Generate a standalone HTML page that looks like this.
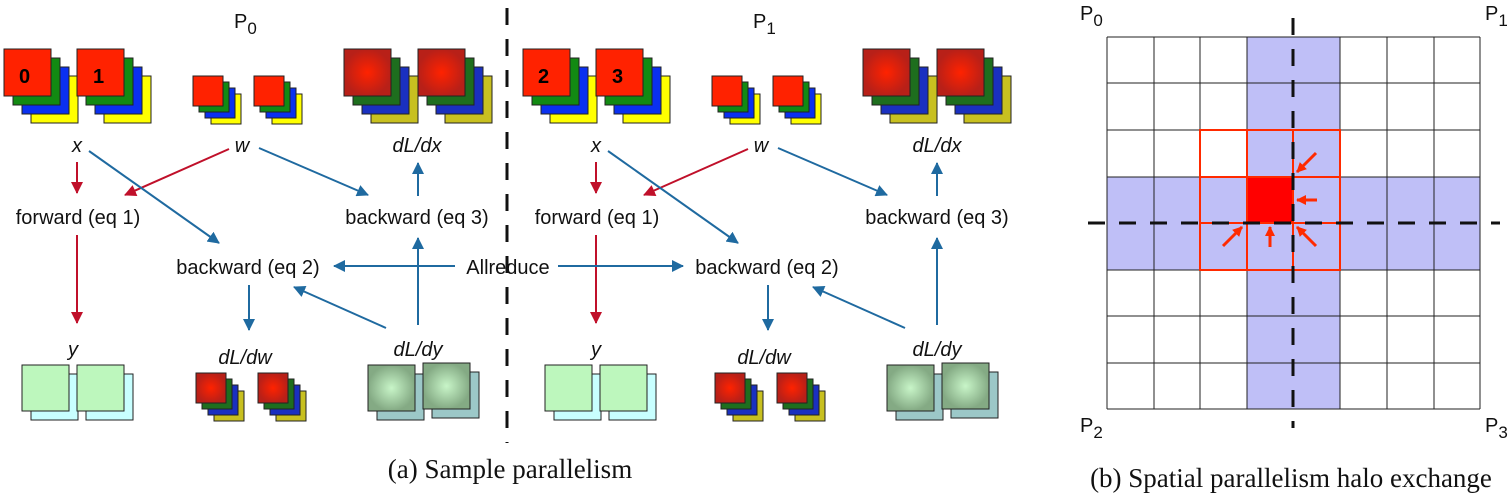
<!DOCTYPE html>
<html><head><meta charset="utf-8"><style>
html,body{margin:0;padding:0;background:#fff;}
svg{display:block;}
.t{font-family:"Liberation Sans",sans-serif;font-size:20px;fill:#111;}
.i{font-style:italic;}
.c{font-family:"Liberation Serif",serif;font-size:27px;fill:#111;}
</style></head><body>
<svg width="1511" height="496" viewBox="0 0 1511 496" xmlns="http://www.w3.org/2000/svg">
<defs>
<marker id="ab" markerWidth="12" markerHeight="12" refX="11" refY="6" orient="auto" markerUnits="userSpaceOnUse"><path d="M0,0 L12,6 L0,12 Z" fill="#1f6aa0"/></marker>
<marker id="ar" markerWidth="12" markerHeight="12" refX="11" refY="6" orient="auto" markerUnits="userSpaceOnUse"><path d="M0,0 L12,6 L0,12 Z" fill="#c0102a"/></marker>
<marker id="ao" markerWidth="10" markerHeight="10" refX="9" refY="5" orient="auto" markerUnits="userSpaceOnUse"><path d="M0,0 L10,5 L0,10 Z" fill="#ff2a00"/></marker>
<radialGradient id="rg"><stop offset="0" stop-color="#ff2200"/><stop offset="1" stop-color="#b82018"/></radialGradient>
<radialGradient id="gg"><stop offset="0" stop-color="#c8f5c8"/><stop offset="1" stop-color="#84aa84"/></radialGradient>
<g id="big"><rect x="27" y="27" width="47" height="47" fill="#ffff00" stroke="#222"/><rect x="18" y="18" width="47" height="47" fill="#0a30f0" stroke="#222"/><rect x="9" y="9" width="47" height="47" fill="#128a12" stroke="#222"/><rect x="0" y="0" width="47" height="47" fill="#ff2200" stroke="#222"/></g>
<g id="sm"><rect x="18" y="18" width="30" height="30" fill="#ffff00" stroke="#222"/><rect x="12" y="12" width="30" height="30" fill="#0a30f0" stroke="#222"/><rect x="6" y="6" width="30" height="30" fill="#128a12" stroke="#222"/><rect x="0" y="0" width="30" height="30" fill="#ff2200" stroke="#222"/></g>
<g id="smg"><rect x="18" y="18" width="30" height="30" fill="#c8c020" stroke="#222"/><rect x="12" y="12" width="30" height="30" fill="#1a30c0" stroke="#222"/><rect x="6" y="6" width="30" height="30" fill="#1e6e1e" stroke="#222"/><rect x="0" y="0" width="30" height="30" fill="url(#rg)" stroke="#222"/></g>
<g id="bigg"><rect x="27" y="27" width="47" height="47" fill="#c8c020" stroke="#222"/><rect x="18" y="18" width="47" height="47" fill="#1a30c0" stroke="#222"/><rect x="9" y="9" width="47" height="47" fill="#1e6e1e" stroke="#222"/><rect x="0" y="0" width="47" height="47" fill="url(#rg)" stroke="#222"/></g>
<g id="ys"><rect x="9" y="9" width="47" height="46" fill="#c8ffff" stroke="#222"/><rect x="0" y="0" width="47" height="46" fill="#bdf7bd" stroke="#222"/></g>
<g id="dys"><rect x="9" y="9" width="47" height="46" fill="#9cc8c8" stroke="#222"/><rect x="0" y="0" width="47" height="46" fill="url(#gg)" stroke="#222"/></g>
</defs>

<use href="#big" x="4" y="49"/><text x="19" y="83" style="font:bold 20px 'Liberation Sans',sans-serif">0</text>
<use href="#big" x="77" y="49"/><text x="93" y="83" style="font:bold 20px 'Liberation Sans',sans-serif">1</text>
<use href="#sm" x="193" y="76"/><use href="#sm" x="254" y="76"/>
<use href="#bigg" x="344" y="49"/><use href="#bigg" x="418" y="49"/>
<use href="#big" x="523" y="49"/><text x="538" y="83" style="font:bold 20px 'Liberation Sans',sans-serif">2</text>
<use href="#big" x="596" y="49"/><text x="612" y="83" style="font:bold 20px 'Liberation Sans',sans-serif">3</text>
<use href="#sm" x="712" y="76"/><use href="#sm" x="773" y="76"/>
<use href="#bigg" x="863" y="49"/><use href="#bigg" x="937" y="49"/>

<use href="#ys" x="22" y="365"/><use href="#ys" x="77" y="365"/>
<use href="#smg" x="196" y="373"/><use href="#smg" x="258" y="373"/>
<use href="#dys" x="368" y="365"/><use href="#dys" x="423" y="363"/>
<use href="#ys" x="545" y="365"/><use href="#ys" x="600" y="365"/>
<use href="#smg" x="715" y="373"/><use href="#smg" x="777" y="373"/>
<use href="#dys" x="887" y="365"/><use href="#dys" x="942" y="363"/>

<text class="t" x="234" y="28">P<tspan font-size="17" dy="6">0</tspan></text>
<text class="t" x="753" y="28">P<tspan font-size="17" dy="6">1</tspan></text>

<g text-anchor="middle">
<text class="t i" x="77" y="152">x</text><text class="t i" x="242" y="152">w</text><text class="t i" x="417" y="152">dL/dx</text>
<text class="t" x="78" y="224">forward (eq 1)</text><text class="t" x="417" y="224">backward (eq 3)</text><text class="t" x="248" y="274">backward (eq 2)</text>
<text class="t" x="508" y="274">Allreduce</text>
<text class="t i" x="73" y="356">y</text><text class="t i" x="245" y="364">dL/dw</text><text class="t i" x="418" y="356">dL/dy</text>
<text class="t i" x="596" y="152">x</text><text class="t i" x="761" y="152">w</text><text class="t i" x="937" y="152">dL/dx</text>
<text class="t" x="597" y="224">forward (eq 1)</text><text class="t" x="937" y="224">backward (eq 3)</text><text class="t" x="767" y="274">backward (eq 2)</text>
<text class="t i" x="596" y="356">y</text><text class="t i" x="764" y="364">dL/dw</text><text class="t i" x="937" y="356">dL/dy</text>
</g>

<g stroke-width="2" fill="none">
<g stroke="#c0102a" marker-end="url(#ar)">
<line x1="77" y1="162" x2="77" y2="193"/><line x1="77" y1="235" x2="77" y2="323"/><line x1="229" y1="149" x2="125" y2="195"/>
<line x1="596" y1="162" x2="596" y2="193"/><line x1="596" y1="235" x2="596" y2="323"/><line x1="748" y1="149" x2="644" y2="195"/>
</g>
<g stroke="#1f6aa0" marker-end="url(#ab)">
<line x1="89" y1="151" x2="219" y2="243"/><line x1="259" y1="148" x2="368" y2="195"/>
<line x1="418" y1="196" x2="418" y2="163"/><line x1="418" y1="325" x2="418" y2="238"/>
<line x1="386" y1="328" x2="294" y2="287"/><line x1="249" y1="285" x2="249" y2="330"/>
<line x1="455" y1="266" x2="334" y2="266"/><line x1="558" y1="266" x2="683" y2="266"/>
<line x1="608" y1="151" x2="738" y2="243"/><line x1="778" y1="148" x2="887" y2="195"/>
<line x1="937" y1="196" x2="937" y2="163"/><line x1="937" y1="325" x2="937" y2="238"/>
<line x1="905" y1="328" x2="813" y2="287"/><line x1="768" y1="285" x2="768" y2="330"/>
</g>
</g>
<line x1="507" y1="8" x2="507" y2="443" stroke="#111" stroke-width="3" stroke-dasharray="17,14"/>
<text class="c" x="510" y="478" text-anchor="middle">(a) Sample parallelism</text>

<rect x="1247" y="37" width="93" height="372" fill="#bfbff7"/>
<rect x="1107" y="177" width="373" height="93" fill="#bfbff7"/>
<g stroke="#222" stroke-width="1">
<line x1="1107" y1="37" x2="1107" y2="409"/><line x1="1154" y1="37" x2="1154" y2="409"/><line x1="1200" y1="37" x2="1200" y2="409"/><line x1="1247" y1="37" x2="1247" y2="409"/><line x1="1340" y1="37" x2="1340" y2="409"/><line x1="1387" y1="37" x2="1387" y2="409"/><line x1="1434" y1="37" x2="1434" y2="409"/><line x1="1480" y1="37" x2="1480" y2="409"/>
<line x1="1107" y1="37" x2="1480" y2="37"/><line x1="1107" y1="83" x2="1480" y2="83"/><line x1="1107" y1="130" x2="1480" y2="130"/><line x1="1107" y1="177" x2="1480" y2="177"/><line x1="1107" y1="270" x2="1480" y2="270"/><line x1="1107" y1="316" x2="1480" y2="316"/><line x1="1107" y1="363" x2="1480" y2="363"/><line x1="1107" y1="409" x2="1480" y2="409"/>
</g>
<rect x="1247" y="177" width="46" height="46" fill="#ff0000"/>
<g stroke="#ff2a00" stroke-width="2" fill="none">
<rect x="1200" y="130" width="140" height="140"/>
<line x1="1247" y1="130" x2="1247" y2="270"/><line x1="1293" y1="130" x2="1293" y2="270"/>
<line x1="1200" y1="177" x2="1340" y2="177"/><line x1="1200" y1="223" x2="1340" y2="223"/>
</g>
<line x1="1293" y1="18" x2="1293" y2="428" stroke="#111" stroke-width="3" stroke-dasharray="17,14"/>
<line x1="1088" y1="223" x2="1500" y2="223" stroke="#111" stroke-width="3" stroke-dasharray="17,14"/>
<g stroke="#ff2a00" stroke-width="3" marker-end="url(#ao)">
<line x1="1316" y1="153" x2="1297" y2="172"/><line x1="1317" y1="200" x2="1297" y2="200"/>
<line x1="1316" y1="246" x2="1297" y2="227"/><line x1="1270" y1="247" x2="1270" y2="227"/>
<line x1="1223" y1="246" x2="1242" y2="227"/>
</g>
<text class="t" x="1080" y="20">P<tspan font-size="17" dy="6">0</tspan></text>
<text class="t" x="1485" y="20">P<tspan font-size="17" dy="6">1</tspan></text>
<text class="t" x="1080" y="432">P<tspan font-size="17" dy="6">2</tspan></text>
<text class="t" x="1485" y="432">P<tspan font-size="17" dy="6">3</tspan></text>
<text class="c" x="1291" y="487" text-anchor="middle">(b) Spatial parallelism halo exchange</text>
</svg>
</body></html>
